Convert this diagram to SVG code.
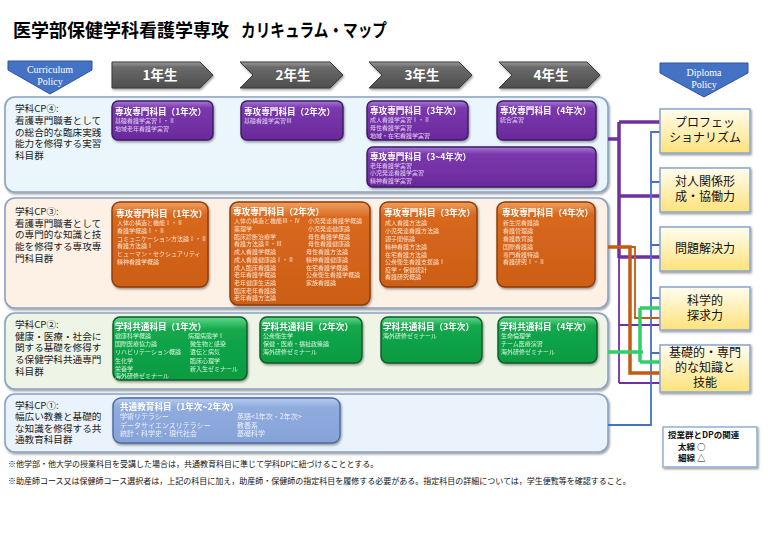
<svg xmlns="http://www.w3.org/2000/svg" width="768" height="543" viewBox="0 0 768 543">
<defs>
<linearGradient id="gP" x1="0" y1="0" x2="0" y2="1"><stop offset="0" stop-color="#a77ad6"/><stop offset="0.18" stop-color="#7a38ac"/><stop offset="1" stop-color="#6a2a9c"/></linearGradient>
<linearGradient id="gO" x1="0" y1="0" x2="0" y2="1"><stop offset="0" stop-color="#f0a060"/><stop offset="0.15" stop-color="#d8681e"/><stop offset="1" stop-color="#cc5e16"/></linearGradient>
<linearGradient id="gG" x1="0" y1="0" x2="0" y2="1"><stop offset="0" stop-color="#5fd98a"/><stop offset="0.2" stop-color="#13a84c"/><stop offset="1" stop-color="#0b9a42"/></linearGradient>
<linearGradient id="gB" x1="0" y1="0" x2="0" y2="1"><stop offset="0" stop-color="#b9cdf0"/><stop offset="0.2" stop-color="#90abde"/><stop offset="1" stop-color="#86a3d8"/></linearGradient>
<linearGradient id="gY" x1="0" y1="0" x2="0" y2="1"><stop offset="0" stop-color="#fffdf0"/><stop offset="1" stop-color="#ffe27a"/></linearGradient>
<linearGradient id="gA" x1="0" y1="0" x2="0" y2="1"><stop offset="0" stop-color="#9a9a9a"/><stop offset="0.2" stop-color="#6a6a6a"/><stop offset="1" stop-color="#4e4e4e"/></linearGradient>
<filter id="sh" x="-10%" y="-10%" width="120%" height="130%"><feDropShadow dx="1" dy="1.5" stdDeviation="1" flood-color="#000" flood-opacity="0.4"/></filter>
</defs>
<style>
text{font-family:"Noto Sans CJK JP","Noto Sans",sans-serif}
.title{font-size:18px;font-weight:bold;fill:#000}
.cp{font-size:9.6px;fill:#222}
.cont{stroke:#8aa3c2;stroke-width:1.6;filter:url(#sh)}
.bx{filter:url(#sh)}
.bp{fill:url(#gP);stroke:#3e1a63;stroke-width:1.4}
.bo{fill:url(#gO);stroke:#8a3a08;stroke-width:1.4}
.bg{fill:url(#gG);stroke:#0b5a2a;stroke-width:1.4}
.bb{fill:url(#gB);stroke:#4d6aa0;stroke-width:1.4}
.bt{font-size:8.6px;font-weight:bold;fill:#fff}
.ip{font-size:6px;fill:#e2cdf5}
.io{font-size:6px;fill:#fde0c8}
.ig{font-size:6px;fill:#d2f5dc}
.ib{font-size:7px;fill:#eef2fb}
.dp{fill:url(#gY);stroke:#8eaad0;stroke-width:1.6;filter:url(#sh)}
.dt{font-size:12px;fill:#111;text-anchor:middle}
.yr{fill:url(#gA);stroke:#3a3a3a;stroke-width:1;filter:url(#sh)}
.yt{font-size:13.5px;font-weight:bold;fill:#fff;text-anchor:middle}
.pol{fill:#4472c4;stroke:#2f5597;stroke-width:1}
.pt{font-family:"Liberation Serif",serif;font-size:10px;fill:#fff;text-anchor:middle}
.note{font-size:8px;fill:#111}
.lg{font-size:8.5px;font-weight:bold;fill:#111}
.c{fill:none;stroke-linejoin:miter}
.pk{stroke:#7030a0;stroke-width:3.5}
.pn{stroke:#7030a0;stroke-width:1.8}
.bl{stroke:#4472c4;stroke-width:1.8}
.ok{stroke:#c55a11;stroke-width:3.5}
.on{stroke:#c55a11;stroke-width:1.8}
.gk{stroke:#2fd06a;stroke-width:3.5}
</style>
<rect width="768" height="543" fill="#fff"/>
<text class="title" x="13" y="37">医学部保健学科看護学専攻<tspan x="241" textLength="146" lengthAdjust="spacingAndGlyphs">カリキュラム・マップ</tspan></text>

<g id="curriculum-policy">
<path class="pol" d="M8,61 H92 V70 L50,94 L8,70 Z"/>
<text class="pt" x="50" y="73">Curriculum</text>
<text class="pt" x="50" y="85">Policy</text>
</g>
<g id="diploma-policy">
<path class="pol" d="M660,63 H748 V73 L704,97 L660,73 Z"/>
<text class="pt" x="704" y="76">Diploma</text>
<text class="pt" x="704" y="88">Policy</text>
</g>

<g id="year1"><path class="yr" d="M112,62 H200 L213,75 L200,88 H112 Z"/><text class="yt" x="160" y="80">1年生</text></g>
<g id="year2"><path class="yr" d="M240,62 H330 L343,75 L330,88 H240 L253,75 Z"/><text class="yt" x="293" y="80">2年生</text></g>
<g id="year3"><path class="yr" d="M369,62 H459 L472,75 L459,88 H369 L382,75 Z"/><text class="yt" x="422" y="80">3年生</text></g>
<g id="year4"><path class="yr" d="M499,62 H587 L600,75 L587,88 H499 L512,75 Z"/><text class="yt" x="551" y="80">4年生</text></g>

<g id="cp4">
<rect class="cont" x="5" y="97" width="603" height="95" rx="10" fill="#eaf6fb"/>
<text class="cp" x="15" y="112">学科CP④:</text>
<text class="cp" x="15" y="124">看護専門職者として</text>
<text class="cp" x="15" y="135.5">の総合的な臨床実践</text>
<text class="cp" x="15" y="147">能力を修得する実習</text>
<text class="cp" x="15" y="158.5">科目群</text>
</g>
<g id="p1" class="bx"><rect class="bp" x="112" y="101" width="101" height="39" rx="6"/>
<text class="bt" x="115" y="114.5">専攻専門科目（1年次）</text>
<text class="ip" x="115" y="123">基礎看護学実習Ⅰ・Ⅱ</text>
<text class="ip" x="115" y="131">地域老年看護学実習</text></g>
<g id="p2" class="bx"><rect class="bp" x="241" y="101" width="102" height="39" rx="6"/>
<text class="bt" x="244" y="114.5">専攻専門科目（2年次）</text>
<text class="ip" x="244" y="123">基礎看護学実習Ⅲ</text></g>
<g id="p3" class="bx"><rect class="bp" x="367" y="101" width="101" height="39" rx="6"/>
<text class="bt" x="370" y="113.5">専攻専門科目（3年次）</text>
<text class="ip" x="370" y="121.5">成人看護学実習Ⅰ・Ⅱ</text>
<text class="ip" x="370" y="129.5">母性看護学実習</text>
<text class="ip" x="370" y="137.5">地域・在宅看護学実習</text></g>
<g id="p4" class="bx"><rect class="bp" x="497" y="101" width="99" height="39" rx="6"/>
<text class="bt" x="500" y="113.5">専攻専門科目（4年次）</text>
<text class="ip" x="500" y="121.5">統合実習</text></g>
<g id="p34" class="bx"><rect class="bp" x="367" y="147" width="229" height="40" rx="6"/>
<text class="bt" x="370" y="159.5">専攻専門科目（3~4年次）</text>
<text class="ip" x="370" y="167.5">老年看護学実習</text>
<text class="ip" x="370" y="175">小児発達看護学実習</text>
<text class="ip" x="370" y="182.5">精神看護学実習</text></g>

<g id="cp3">
<rect class="cont" x="5" y="198" width="603" height="110" rx="10" fill="#fdf1e6"/>
<text class="cp" x="15" y="215">学科CP③:</text>
<text class="cp" x="15" y="226.5">看護専門職者として</text>
<text class="cp" x="15" y="238">の専門的な知識と技</text>
<text class="cp" x="15" y="250">能を修得する専攻専</text>
<text class="cp" x="15" y="261.5">門科目群</text>
</g>
<g id="o1" class="bx"><rect class="bo" x="112" y="202" width="96" height="85" rx="8"/>
<text class="bt" x="116" y="217">専攻専門科目（1年次）</text>
<text class="io" x="117" y="225">人体の構造と機能Ⅰ・Ⅱ</text>
<text class="io" x="117" y="233">看護学概論Ⅰ・Ⅱ</text>
<text class="io" x="117" y="240.5">コミュニケーション方法論Ⅰ・Ⅱ</text>
<text class="io" x="117" y="248">看護方法論Ⅰ</text>
<text class="io" x="117" y="255.5">ヒューマン・セクシュアリティ</text>
<text class="io" x="117" y="263.5">精神看護学概論</text></g>
<g id="o2" class="bx"><rect class="bo" x="230" y="202" width="140" height="103" rx="8"/>
<text class="bt" x="233" y="214.5">専攻専門科目（2年次）</text>
<text class="io" x="234" y="223">人体の構造と機能Ⅲ・Ⅳ</text>
<text class="io" x="234" y="230.5">薬理学</text>
<text class="io" x="234" y="238.5">臨床診断治療学</text>
<text class="io" x="234" y="246">看護方法論Ⅱ・Ⅲ</text>
<text class="io" x="234" y="254">成人看護学概論</text>
<text class="io" x="234" y="261.5">成人看護健康論Ⅰ・Ⅱ</text>
<text class="io" x="234" y="269.5">成人臨床看護論</text>
<text class="io" x="234" y="277">老年看護学概論</text>
<text class="io" x="234" y="285">老年健康生活論</text>
<text class="io" x="234" y="292.5">臨床老年看護論</text>
<text class="io" x="234" y="300">老年看護方法論</text>
<text class="io" x="308" y="223">小児発達看護学概論</text>
<text class="io" x="308" y="230.5">小児発達健康論</text>
<text class="io" x="308" y="238.5">母性看護学概論</text>
<text class="io" x="308" y="246">母性看護健康論</text>
<text class="io" x="306" y="254">母性看護方法論</text>
<text class="io" x="306" y="261.5">精神看護健康論</text>
<text class="io" x="306" y="269.5">在宅看護学概論</text>
<text class="io" x="306" y="277">公衆衛生看護学概論</text>
<text class="io" x="306" y="285">家族看護論</text></g>
<g id="o3" class="bx"><rect class="bo" x="380" y="202" width="97" height="85" rx="8"/>
<text class="bt" x="384" y="215.5">専攻専門科目（3年次）</text>
<text class="io" x="385" y="225">成人看護方法論</text>
<text class="io" x="385" y="233">小児発達看護方法論</text>
<text class="io" x="385" y="240.5">親子関係論</text>
<text class="io" x="385" y="249">精神看護方法論</text>
<text class="io" x="385" y="256.5">在宅看護方法論</text>
<text class="io" x="385" y="264">公衆衛生看護支援論Ⅰ</text>
<text class="io" x="385" y="271.5">疫学・保健統計</text>
<text class="io" x="385" y="279">看護研究概論</text></g>
<g id="o4" class="bx"><rect class="bo" x="497" y="202" width="98" height="85" rx="8"/>
<text class="bt" x="502" y="215.5">専攻専門科目（4年次）</text>
<text class="io" x="503" y="225">新生児看護論</text>
<text class="io" x="503" y="233">看護管理論</text>
<text class="io" x="503" y="240.5">看護教育論</text>
<text class="io" x="503" y="249">国際看護論</text>
<text class="io" x="503" y="256.5">専門看護特論</text>
<text class="io" x="503" y="264">看護研究Ⅰ・Ⅱ</text></g>

<g id="cp2">
<rect class="cont" x="5" y="313" width="603" height="76" rx="10" fill="#eef5e6"/>
<text class="cp" x="15" y="328">学科CP②:</text>
<text class="cp" x="15" y="339.5">健康・医療・社会に</text>
<text class="cp" x="15" y="351">関する基礎を修得す</text>
<text class="cp" x="15" y="362.5">る保健学科共通専門</text>
<text class="cp" x="15" y="375">科目群</text>
</g>
<g id="g1" class="bx"><rect class="bg" x="113" y="317" width="134" height="63" rx="7"/>
<text class="bt" x="115" y="330">学科共通科目（1年次）</text>
<text class="ig" x="115" y="338">健康科学概論</text>
<text class="ig" x="115" y="346">国際医療協力論</text>
<text class="ig" x="115" y="354">リハビリテーション概論</text>
<text class="ig" x="115" y="363">生化学</text>
<text class="ig" x="115" y="370.5">栄養学</text>
<text class="ig" x="115" y="378">海外研修ゼミナール</text>
<text class="ig" x="188" y="338">病理病態学Ⅰ</text>
<text class="ig" x="190" y="346">微生物と感染</text>
<text class="ig" x="190" y="354">遺伝と病気</text>
<text class="ig" x="190" y="363">臨床心理学</text>
<text class="ig" x="190" y="370.5">新入生ゼミナール</text></g>
<g id="g2" class="bx"><rect class="bg" x="260" y="317" width="102" height="46" rx="7"/>
<text class="bt" x="262" y="330">学科共通科目（2年次）</text>
<text class="ig" x="263" y="338">公衆衛生学</text>
<text class="ig" x="263" y="346">保健・医療・福祉政策論</text>
<text class="ig" x="263" y="354">海外研修ゼミナール</text></g>
<g id="g3" class="bx"><rect class="bg" x="381" y="317" width="101" height="46" rx="7"/>
<text class="bt" x="383" y="330">学科共通科目（3年次）</text>
<text class="ig" x="383" y="338">海外研修ゼミナール</text></g>
<g id="g4" class="bx"><rect class="bg" x="498" y="317" width="99" height="46" rx="7"/>
<text class="bt" x="500" y="330">学科共通科目（4年次）</text>
<text class="ig" x="501" y="338">生命倫理学</text>
<text class="ig" x="501" y="346">チーム医療演習</text>
<text class="ig" x="501" y="354">海外研修ゼミナール</text></g>

<g id="cp1">
<rect class="cont" x="5" y="394" width="603" height="58" rx="10" fill="#eaf3fb"/>
<text class="cp" x="15" y="408.5">学科CP①:</text>
<text class="cp" x="15" y="420">幅広い教養と基礎的</text>
<text class="cp" x="15" y="431.5">な知識を修得する共</text>
<text class="cp" x="15" y="443">通教育科目群</text>
</g>
<g id="b1" class="bx"><rect class="bb" x="113" y="398" width="227" height="45" rx="8"/>
<text class="bt" x="120" y="410">共通教育科目（1年次~2年次）</text>
<text class="ib" x="120" y="419">学術リテラシー</text>
<text class="ib" x="120" y="427.5">データサイエンスリテラシー</text>
<text class="ib" x="120" y="436">統計・科学史・現代社会</text>
<text class="ib" x="237" y="419">英語&lt;1年次・2年次&gt;</text>
<text class="ib" x="237" y="427.5">教養系</text>
<text class="ib" x="237" y="436">基礎科学</text></g>

<g id="connectors">
<path class="c pk" d="M608,139 H619 M619,122 V258 M619,122 H660 M619,196 H660 M619,257 H660"/>
<path class="c pn" d="M619,256 V383 M619,325 H660 M619,383 H660"/>
<path class="c bl" d="M608,425 H651 V132 H660 M651,182 H660 M651,245 H660 M651,298 H660 M651,353 H660"/>
<path class="c ok" d="M608,247 H630 V373 H660"/>
<path class="c on" d="M630,247 H635 V318 H660"/>
<path class="c gk" d="M608,352 H643 M640,308 V362 M640,308 H660 M640,362 H660"/>
</g>

<g id="dp1"><rect class="dp" x="660" y="109" width="90" height="44"/><text class="dt" x="705" y="127">プロフェッ</text><text class="dt" x="705" y="142">ショナリズム</text></g>
<g id="dp2"><rect class="dp" x="660" y="168" width="90" height="44"/><text class="dt" x="705" y="186">対人関係形</text><text class="dt" x="705" y="201">成・協働力</text></g>
<g id="dp3"><rect class="dp" x="660" y="227" width="90" height="44"/><text class="dt" x="705" y="253">問題解決力</text></g>
<g id="dp4"><rect class="dp" x="660" y="287" width="90" height="43"/><text class="dt" x="705" y="305">科学的</text><text class="dt" x="705" y="320">探求力</text></g>
<g id="dp5"><rect class="dp" x="660" y="345" width="90" height="47"/><text class="dt" x="705" y="357">基礎的・専門</text><text class="dt" x="705" y="372">的な知識と</text><text class="dt" x="705" y="387">技能</text></g>

<g id="legend">
<rect x="663" y="427" width="94" height="40" fill="#fff" stroke="#8eaad0" stroke-width="1.4" filter="url(#sh)"/>
<text class="lg" x="668" y="438">授業群とDPの関連</text>
<text class="lg" x="678" y="450">太線 ○</text>
<text class="lg" x="678" y="461">細線 △</text>
</g>

<text class="note" x="8" y="467">※他学部・他大学の授業科目を受講した場合は，共通教育科目に準じて学科DPに紐づけることとする。</text>
<text class="note" x="8" y="484">※助産師コース又は保健師コース選択者は，上記の科目に加え，助産師・保健師の指定科目を履修する必要がある。指定科目の詳細については，学生便覧等を確認すること。</text>
</svg>
